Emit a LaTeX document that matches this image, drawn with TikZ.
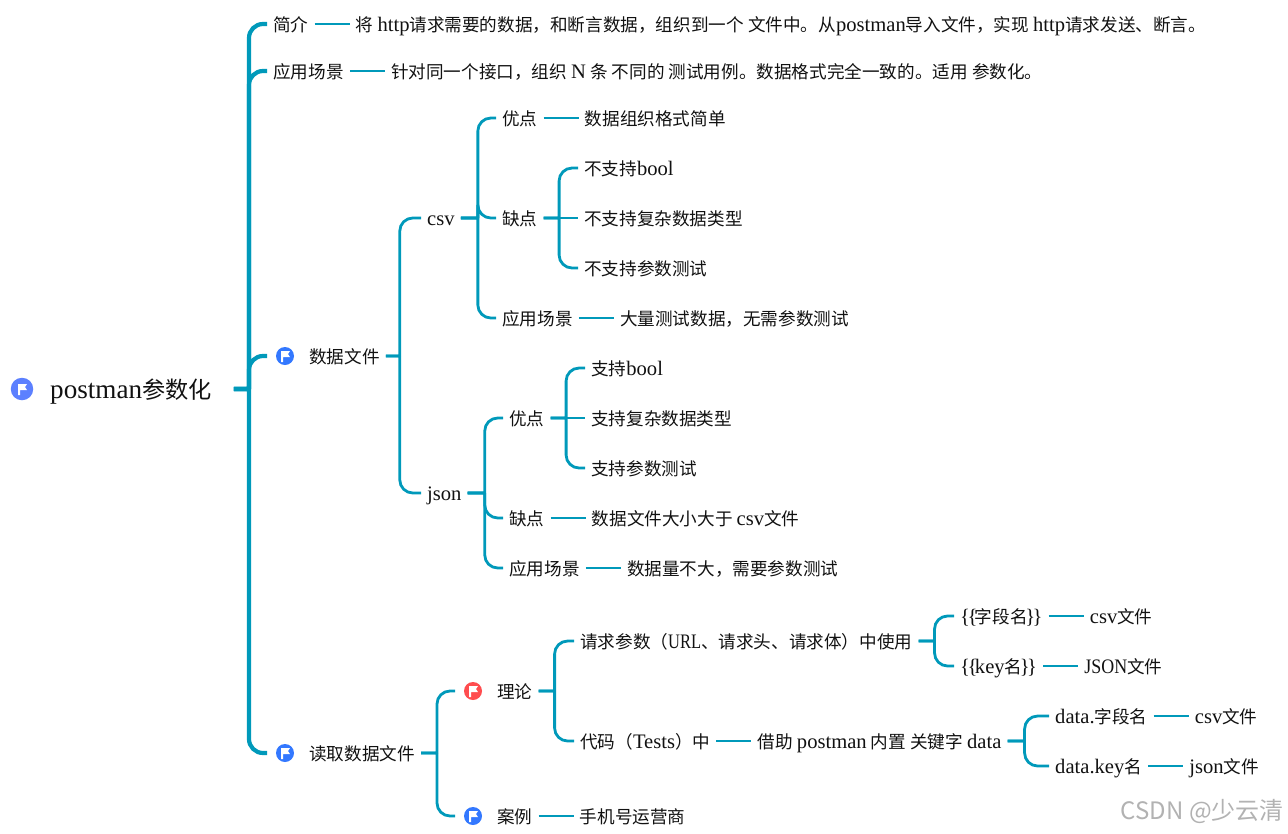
\documentclass[tikz,border=0pt]{standalone}
\usepackage{fontspec}
\setmainfont[Scale=1.17,WordSpace=0.8]{Liberation Serif}
\newfontfamily\cjk{Noto Sans CJK SC}
\newcommand{\zh}[1]{{\cjk #1}}
\newcommand{\nrw}[2]{\scalebox{#1}[1]{#2}}
\newcommand{\dbl}[1]{\{\kern-2.5pt\{\kern-2.5pt#1\kern-2.5pt\}\kern-2.5pt\}}
\usetikzlibrary{positioning}
\definecolor{brline}{HTML}{0099BA}
\definecolor{flagroot}{HTML}{5C80FF}
\definecolor{flagblue}{HTML}{3378FF}
\definecolor{flagred}{HTML}{FF4D4F}
\definecolor{inkc}{HTML}{111111}
\begin{document}
\begin{tikzpicture}[x=1pt,y=-1pt,node distance=35pt,
  txt/.style={anchor=west,inner xsep=6pt,inner ysep=0pt,text height=16.5pt,text depth=1.5pt,text=inkc,
    font=\fontsize{17.6}{20}\selectfont},
  rootn/.style={anchor=west,inner xsep=22pt,inner ysep=0pt,text=inkc,font=\fontsize{23.2}{26}\selectfont},
  flagdot/.style n args={2}{circle,fill=#1,inner sep=0pt,minimum size={18pt*#2},outer sep=9pt,
    path picture={\fill[white,scale=#2,shift={(path picture bounding box.center)}]
      (-4,-5) -- (5,-5) -- (3,-2) -- (5,1) -- (-2,1) -- (-2,6) -- (-4,6) -- cycle;}},
  brk/.style={brline,line width=4.2pt},
  brm/.style={brline,line width=2.8pt},
  stub/.style={brline,line width=2.8pt}]
\useasboundingbox (0,0) rectangle (1288,833);

% root
\node[rootn] (root) at (28,391.5) {postman\zh{参数化}};
\node[flagdot={flagroot}{1.25}] (flagroot0) at (22,389) {};

% first level
\node[txt] (jianjie) at (267,24) {\zh{简介}};
\node[txt,right=of jianjie] (jianjietxt) {\zh{将} http\zh{请求需要的数据，和断言数据，组织到一个} \zh{文件中。从}postman\zh{导入文件，实现} http\zh{请求发送、断言。}};
\node[txt] (scene) at (267,71) {\zh{应用场景}};
\node[txt,right=of scene] (scenetxt) {\zh{针对同一个接口，组织} N \zh{条} \zh{不同的} \zh{测试用例。数据格式完全一致的。适用} \zh{参数化。}};
\node[flagdot={flagblue}{1}] (flagdata) at (285,356) {};
\node[txt] (data) at (303,356) {\zh{数据文件}};
\node[flagdot={flagblue}{1}] (flagread) at (285,753) {};
\node[txt] (read) at (303,753) {\zh{读取数据文件}};

% csv
\node[txt] (csv) at (421,218) {csv};
\node[txt] (csvgood) at (496,118) {\zh{优点}};
\node[txt,right=of csvgood] (csvgoodtxt) {\zh{数据组织格式简单}};
\node[txt] (csvbad) at (496,218) {\zh{缺点}};
\node[txt] (csvbada) at (578,168) {\zh{不支持}bool};
\node[txt] (csvbadb) at (578,218) {\zh{不支持复杂数据类型}};
\node[txt] (csvbadc) at (578,268) {\zh{不支持参数测试}};
\node[txt] (csvuse) at (496,318) {\zh{应用场景}};
\node[txt,right=of csvuse] (csvusetxt) {\zh{大量测试数据，无需参数测试}};

% json
\node[txt] (json) at (421,493) {json};
\node[txt] (jsongood) at (503,418) {\zh{优点}};
\node[txt] (jsongooda) at (585,368) {\zh{支持}bool};
\node[txt] (jsongoodb) at (585,418) {\zh{支持复杂数据类型}};
\node[txt] (jsongoodc) at (585,468) {\zh{支持参数测试}};
\node[txt] (jsonbad) at (503,518) {\zh{缺点}};
\node[txt,right=of jsonbad] (jsonbadtxt) {\zh{数据文件大小大于} csv\zh{文件}};
\node[txt] (jsonuse) at (503,568) {\zh{应用场景}};
\node[txt,right=of jsonuse] (jsonusetxt) {\zh{数据量不大，需要参数测试}};

% reading the file
\node[flagdot={flagred}{1}] (flagtheory) at (473,691) {};
\node[txt] (theory) at (491,691) {\zh{理论}};
\node[flagdot={flagblue}{1}] (flagcase) at (473,816) {};
\node[txt] (case) at (491,816) {\zh{案例}};
\node[txt,right=of case] (casetxt) {\zh{手机号运营商}};
\node[txt] (param) at (574,641) {\zh{请求参数（}\nrw{.8}{URL}\zh{、请求头、请求体）中使用}};
\node[txt] (fieldn) at (954,616) {\dbl{\zh{字段名}}};
\node[txt,right=of fieldn] (fieldcsv) {csv\zh{文件}};
\node[txt] (keyn) at (954,666) {\dbl{key\zh{名}}};
\node[txt,right=of keyn] (keyjson) {\nrw{.87}{JSON}\zh{文件}};
\node[txt] (code) at (574,741) {\zh{代码（}Tests\zh{）中}};
\node[txt,right=of code] (codetxt) {\zh{借助} postman \zh{内置} \zh{关键字} data};
\node[txt] (dfield) at (1049,716) {data.\zh{字段名}};
\node[txt,right=of dfield] (dfieldcsv) {csv\zh{文件}};
\node[txt] (dkey) at (1049,766) {data.key\zh{名}};
\node[txt,right=of dkey] (dkeyjson) {json\zh{文件}};

\node[text=black!30,anchor=east,inner sep=0pt,font=\cjk\fontsize{24}{26}\selectfont] (mark) at (1284,811) {CSDN @少云清};

% thick branches off the root
\foreach \b in {jianjie,scene,flagdata,flagread}
  \draw[brk] (root.east |- flagroot0) -- ++(15,0) ++(0,0) [rounded corners=14pt] |- (\b.west);

% forks
\foreach \a/\w/\b in {data/14/csv,data/14/json,
    csv/17/csvgood,csv/17/csvbad,csv/17/csvuse,csvbad/15.5/csvbada,csvbad/15.5/csvbadc,
    json/17/jsongood,json/17/jsonbad,json/17/jsonuse,jsongood/15.5/jsongooda,jsongood/15.5/jsongoodc,
    read/16/flagtheory,read/16/flagcase,theory/16/param,theory/16/code,
    param/16/fieldn,param/16/keyn,codetxt/17/dfield,codetxt/17/dkey}
  \draw[brm] (\a.east) -- ++(\w,0) ++(0,0) [rounded corners=13pt] |- (\b.west);

% plain links
\foreach \a/\b in {jianjie/jianjietxt,scene/scenetxt,csvgood/csvgoodtxt,csvbad/csvbadb,
    csvuse/csvusetxt,jsongood/jsongoodb,jsonbad/jsonbadtxt,jsonuse/jsonusetxt,case/casetxt,
    fieldn/fieldcsv,keyn/keyjson,code/codetxt,dfield/dfieldcsv,dkey/dkeyjson}
  \draw[stub] (\a.east) -- (\b.west);
\end{tikzpicture}
\end{document}
